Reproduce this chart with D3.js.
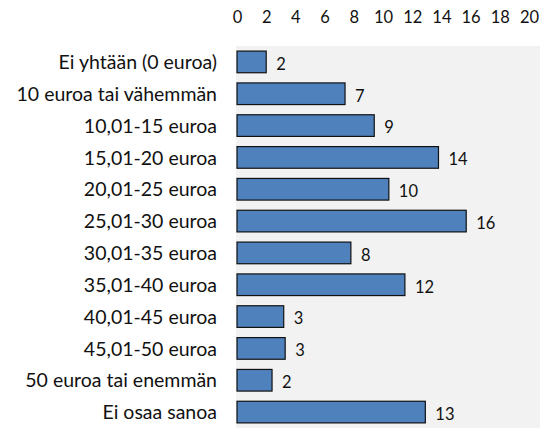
<!DOCTYPE html>
<html>
<head>
<meta charset="utf-8">
<script src="https://cdn.jsdelivr.net/npm/d3@7"></script>
<style>
    body { margin: 0; background: white; }
    text { font-family: Lato, "Open Sans", sans-serif; fill: #111; }
</style>
</head>
<body>
<svg id="chart" width="540" height="428"></svg>
<script>
const CONSTANTS = {
    WIDTH: 540,
    HEIGHT: 428,
    BAR_FILL: "#4f81bd",
    PLOT_BG: "#f2f2f2",
}

// answer categories, top to bottom
const categories = [
    "Ei yhtään (0 euroa)",
    "10 euroa tai vähemmän",
    "10,01-15 euroa",
    "15,01-20 euroa",
    "20,01-25 euroa",
    "25,01-30 euroa",
    "30,01-35 euroa",
    "35,01-40 euroa",
    "40,01-45 euroa",
    "45,01-50 euroa",
    "50 euroa tai enemmän",
    "Ei osaa sanoa",
];

// share (%)
const values = [2.0, 7.4, 9.4, 13.8, 10.4, 15.7, 7.8, 11.5, 3.2, 3.3, 2.4, 12.9];

// numbers printed next to the bars
const valueLabels = [2, 7, 9, 14, 10, 16, 8, 12, 3, 3, 2, 13];

const xTicks = [0, 2, 4, 6, 8, 10, 12, 14, 16, 18, 20];

var svg = d3.select("#chart");

var x = d3.scaleLinear()
    .domain([0, 20])
    .range([237, 529]);

var y = d3.scaleBand()
    .domain(categories)
    .range([46, 428])
    .paddingInner(0.32)
    .paddingOuter(0.16);

// plot area background
svg.append("rect")
    .attr("x", 236)
    .attr("y", 46)
    .attr("width", CONSTANTS.WIDTH - 236)
    .attr("height", CONSTANTS.HEIGHT - 46)
    .attr("fill", CONSTANTS.PLOT_BG);

// top axis, labels only
var xAxis = svg.append("g")
    .attr("transform", "translate(0,17)")
    .call(d3.axisTop(x).tickValues(xTicks).tickSize(0).tickPadding(0));
xAxis.select(".domain").remove();
xAxis.selectAll("text")
    .attr("dy", "0.35em")
    .style("font-size", "16.5px")
    .style("font-family", "Lato, sans-serif")
    .attr("fill", "#111");

// category labels
var yAxis = svg.append("g")
    .attr("transform", "translate(217,0)")
    .call(d3.axisLeft(y).tickSize(0).tickPadding(0));
yAxis.select(".domain").remove();
yAxis.selectAll("text")
    .attr("dy", "0.37em")
    .style("font-size", "19.5px")
    .style("font-family", "Lato, sans-serif")
    .attr("fill", "#111");

var rows = categories.map((c, i) => ({ cat: c, value: values[i], label: valueLabels[i] }));

svg.append("g")
    .selectAll("rect")
    .data(rows)
    .enter()
    .append("rect")
        .attr("x", x(0))
        .attr("y", d => y(d.cat))
        .attr("width", d => x(d.value) - x(0))
        .attr("height", y.bandwidth())
        .attr("fill", CONSTANTS.BAR_FILL)
        .attr("stroke", "#111")
        .attr("stroke-width", 1.2);

svg.append("g")
    .selectAll("text")
    .data(rows)
    .enter()
    .append("text")
        .attr("x", d => x(d.value) + 10)
        .attr("y", d => y(d.cat) + y.bandwidth() / 2 + 2)
        .attr("dy", "0.35em")
        .style("font-size", "16.5px")
        .text(d => d.label);
</script>
</body>
</html>
